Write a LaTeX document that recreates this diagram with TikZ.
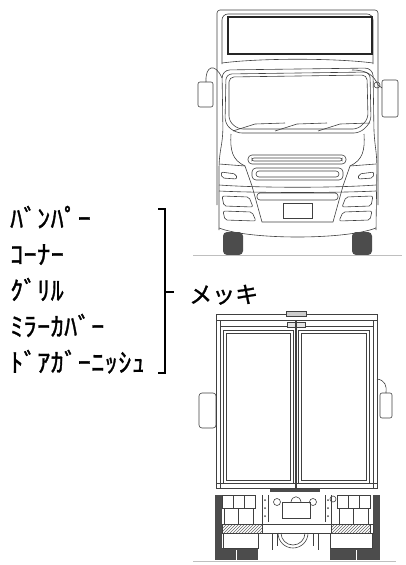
\documentclass[tikz,border=0pt]{standalone}
\usepackage{fontspec}
\newfontfamily\jpfont[FakeBold=1.2]{Noto Sans CJK JP}
\newfontfamily\hankaku[LetterSpace=2,FakeBold=1.2]{Noto Sans CJK JP}
\usetikzlibrary{positioning,patterns}

\begin{document}
\begin{tikzpicture}[x=1pt, y=-1pt,
    partlabel/.style={anchor=base west, inner sep=0pt, font=\hankaku\fontsize{26}{26}\selectfont},
    finishlabel/.style={anchor=base west, inner sep=0pt, font=\jpfont\fontsize{23}{23}\selectfont},
    bracket/.style={line width=1.5pt},
    truckline/.style={draw=black!75, line width=0.6pt},
    tyre/.style={fill=black!70, draw=none},
    groundline/.style={draw=black!25, line width=0.8pt}
]
    \useasboundingbox (0,0) rectangle (406,565);

    % Parts list
    \foreach \t [count=\i from 0] in {ﾊﾞﾝﾊﾟｰ, ｺｰﾅｰ, ｸﾞﾘﾙ, ﾐﾗｰｶﾊﾞｰ, ﾄﾞｱｶﾞｰﾆｯｼｭ}
        \node[partlabel] (part\i) at (10, 228+36*\i) {\t};
    \node[finishlabel] (mekki) at (189, 303) {メッキ};

    \coordinate (btop) at (158, 209);
    \coordinate (bbot) at (158, 373);
    \coordinate (bmid) at (165, 292);
    \coordinate (btick) at (174, 292);
    \draw[bracket] (btop) -| (bmid) |- (bbot);
    \draw[bracket] (bmid) -- (btick);

    % Front view
    \draw[truckline, rounded corners=3] (217,205) -- (217,10) -- (378,10) -- (378,205);
    \draw[truckline, rounded corners=6] (222,64) -- (222,14) -- (373,14) -- (373,64);
    \draw[line width=1.5pt, black!85] (228,17) rectangle (372,54);
    \draw[truckline] (222,63) .. controls (260,58) and (335,58) .. (373,63);
    \draw[truckline, rounded corners=8] (219,230) -- (219,160) -- (223,135) -- (222,70) -- (373,68) -- (374,135) -- (377,160) -- (376,230);
    \draw[truckline, rounded corners=6] (225,124) -- (226,74) -- (370,72) -- (371,122) -- (360,133) -- (236,133) -- cycle;
    \draw[truckline, rounded corners=5] (229,121) -- (229,77) -- (367,75) -- (368,119) -- (358,129) -- (238,129) -- cycle;
    \foreach \x in {0,42,85}
        \draw[truckline] ({233+\x},131) -- ({255+\x},124) -- ({285+\x},123);
    \draw[truckline, rounded corners=2] (198,82) rectangle (213,107);
    \draw[truckline] (222,78) .. controls (215,62) and (205,66) .. (206,82);
    \draw[truckline, rounded corners=2] (382,80) rectangle (398,117);
    \draw[truckline] (352,70) .. controls (368,70) and (374,76) .. (378,85) -- (382,88);
    \draw[truckline] (377,85) circle (3);
    \draw[truckline] (231,134) .. controls (230,150) and (232,160) .. (245,166) -- (252,186);
    \draw[truckline] (364,134) .. controls (365,150) and (363,160) .. (350,166) -- (343,186);
    \draw[truckline] (219,164) -- (245,166);
    \draw[truckline] (376,164) -- (350,166);
    \draw[truckline, rounded corners=2] (221,172) -- (236,174) -- (237,179) -- (222,178) -- cycle;
    \draw[truckline, rounded corners=2] (374,172) -- (359,174) -- (358,179) -- (373,178) -- cycle;
    \draw[truckline, rounded corners=4] (248,155) rectangle (346,164);
    \draw[truckline, rounded corners=2] (252,158) rectangle (342,161);
    \draw[truckline, rounded corners=4] (252,168) rectangle (343,180);
    \draw[truckline, rounded corners=3] (256,171) rectangle (339,177);
    \draw[truckline] (219,185) .. controls (260,188) and (335,188) .. (376,185);
    \draw[truckline] (219,191) .. controls (260,193) and (335,193) .. (376,191);
    \draw[truckline, rounded corners=3] (257,193) rectangle (338,200);
    \draw[truckline] (283,203) rectangle (312,218);
    \draw[truckline, rounded corners=2] (222,196) -- (249,197) -- (253,207) -- (224,206) -- cycle;
    \draw[truckline, rounded corners=2] (223,211) -- (252,212) -- (256,221) -- (225,220) -- cycle;
    \draw[truckline, rounded corners=2] (373,196) -- (346,197) -- (342,207) -- (371,206) -- cycle;
    \draw[truckline, rounded corners=2] (372,211) -- (343,212) -- (339,221) -- (370,220) -- cycle;
    \draw[truckline] (252,186) -- (262,222) -- (333,222) -- (343,186);
    \draw[truckline] (219,228) .. controls (250,240) and (345,240) .. (376,228);
    \fill[tyre, rounded corners=4] (223,232) rectangle (243,255);
    \fill[tyre, rounded corners=4] (352,232) rectangle (372,255);
    \draw[groundline] (193,255) -- (402,255);

    % Rear view
    \fill[tyre] (215,495) rectangle (222,560);
    \fill[tyre] (373,495) rectangle (380,560);
    \fill[tyre] (215,548) rectangle (258,560);
    \fill[tyre] (330,548) rectangle (380,560);
    \draw[white, line width=0.8pt] (236,550) -- (236,560);
    \draw[white, line width=0.8pt] (356,550) -- (356,560);
    \draw[truckline, fill=white] (216,314) rectangle (377,488);
    \draw[truckline] (216,320) -- (377,320);
    \draw[truckline] (220,326) -- (373,326);
    \draw[truckline] (220,320) -- (220,488);
    \draw[truckline] (373,320) -- (373,488);
    \draw[truckline, fill=black!20] (286,311) rectangle (306,316);
    \draw[truckline, fill=black!10] (287,322) rectangle (305,327);
    \draw[truckline] (223,330) rectangle (293,483);
    \draw[truckline] (226,333) rectangle (290,480);
    \draw[truckline] (298,330) rectangle (369,483);
    \draw[truckline] (301,333) rectangle (366,480);
    \draw[truckline] (295,320) -- (295,488);
    \draw[truckline] (296.5,320) -- (296.5,488);
    \draw[truckline] (216,483) -- (377,483);
    \draw[truckline, rounded corners=3] (199,393) rectangle (216,428);
    \draw[truckline] (377,379) .. controls (385,380) and (387,386) .. (386,393);
    \draw[truckline, rounded corners=2] (380,393) rectangle (392,418);
    \fill[black!70] (270,489) rectangle (320,492);
    \foreach \x in {222,337} {
        \draw[truckline] (\x,495) rectangle ++(33,13);
        \draw[truckline] ({\x+11},495) -- ++(0,13);
        \draw[truckline] ({\x+22},495) -- ++(0,13);
        \draw[truckline] ({\x+2},508) rectangle ++(29,16);
        \draw[truckline] ({\x+16},508) -- ++(0,16);
    }
    \draw[truckline] (333,499) circle (3);
    \draw[truckline] (277,502) circle (3.5);
    \draw[truckline] (313,502) circle (3.5);
    \draw[truckline] (262,495) -- (262,524);
    \draw[truckline] (268,495) -- (268,522);
    \draw[truckline] (325,495) -- (325,522);
    \draw[truckline] (331,495) -- (331,524);
    \draw[truckline] (282,502) rectangle (310,518);
    \draw[truckline] (291,502) .. controls (292,495) and (300,495) .. (301,502);
    \foreach \y in {500,508,516} {
        \fill[black!70] (265,\y) circle (1);
        \fill[black!70] (328,\y) circle (1);
    }
    \draw[truckline] (222,524) rectangle (373,533);
    \draw[truckline, pattern=north east lines, pattern color=black!60] (222,524) rectangle (262,533);
    \draw[truckline, pattern=north east lines, pattern color=black!60] (331,524) rectangle (370,533);
    \draw[truckline] (223,533) rectangle (258,548);
    \draw[truckline] (330,533) rectangle (372,548);
    \draw[truckline] (278,533) arc (180:0:15);
    \draw[truckline] (281,533) arc (180:0:12);
    \draw[truckline] (272,533) -- (272,550);
    \draw[truckline] (277,533) -- (277,546);
    \draw[truckline] (313,533) -- (313,546);
    \draw[truckline] (318,533) -- (318,550);
    \draw[groundline] (193,561) -- (396,561);
\end{tikzpicture}
\end{document}
